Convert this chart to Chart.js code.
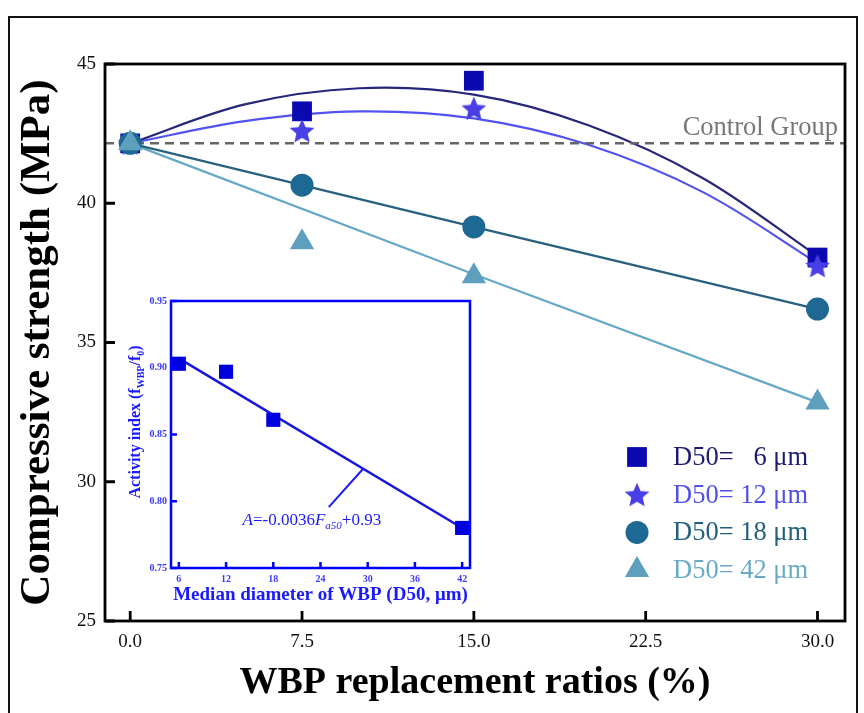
<!DOCTYPE html>
<html>
<head>
<meta charset="utf-8">
<script src="https://cdn.jsdelivr.net/npm/chart.js@4.4.1/dist/chart.umd.min.js"></script>
<style>
  html, body { margin: 0; padding: 0; background: #fff; }
  #wrap { position: relative; width: 864px; height: 713px; overflow: hidden; background: #fff; }
  #main { position: absolute; left: 0; top: 0; }
  #inset { position: absolute; left: 120px; top: 290px; }
  #frame { position: absolute; left: 8px; top: 16px; width: 850px; height: 730px; border: 2px solid #111; box-sizing: border-box; pointer-events: none; }
</style>
</head>
<body>
<div id="wrap">
  <canvas id="main" width="864" height="713"></canvas>
  <canvas id="inset" width="360" height="320"></canvas>
  <div id="frame"></div>
</div>
<script>
// Dados do gráfico principal
const ratios = [0, 7.5, 15, 30];
const d6 = [42.15, 43.3, 44.4, 38.05];
const d12 = [42.15, 42.6, 43.4, 37.75];
const d18 = [42.15, 40.65, 39.15, 36.2];
const d42 = [42.15, 38.6, 37.38, 32.85];

// Curvas de ajuste
const fitX = [0, 5, 10, 15, 20, 25, 30];
const fit6 = [42.15, 43.55, 44.13, 43.9, 42.8, 40.9, 38.1];
const fit12 = [42.15, 42.95, 43.3, 43.05, 42.1, 40.4, 37.85];
const fit42X = [0, 15, 30];
const fit42 = [42.15, 37.45, 32.85];

const controlValue = 42.15;
const legendLabels = ['D50=\u2007 6 \u03bcm', 'D50= 12 \u03bcm', 'D50= 18 \u03bcm', 'D50= 42 \u03bcm'];
const xTicks = [0, 7.5, 15, 22.5, 30];
const yTicks = [25, 30, 35, 40, 45];

// Dados do gráfico interno (inset)
const insetD50 = [6, 12, 18, 42];
const insetIndex = [0.903, 0.897, 0.861, 0.780];
const insetFitX = [6, 42];
const insetFitY = [0.907, 0.780];
const insetXTicks = [6, 12, 18, 24, 30, 36, 42];
const insetYTicks = [0.75, 0.80, 0.85, 0.90, 0.95];

const pts = (xs, ys) => xs.map((x, i) => ({ x: x, y: ys[i] }));

// Marcador estrela (o 'star' do Chart.js não é preenchido)
function drawStar(g, cx, cy, R, r, color) {
    g.beginPath();
    for (let i = 0; i < 10; i++) {
        const a = -Math.PI / 2 + i * Math.PI / 5;
        const rad = i % 2 ? r : R;
        g.lineTo(cx + rad * Math.cos(a), cy + rad * Math.sin(a));
    }
    g.closePath();
    g.fillStyle = color;
    g.fill();
}
function starCanvas(size, color) {
    const c = document.createElement('canvas');
    c.width = c.height = size;
    drawStar(c.getContext('2d'), size / 2, size / 2 + 1, size / 2, size * 0.23, color);
    return c;
}

function drawMarker(ctx, style, r, x, y, color) {
    ctx.fillStyle = color;
    if (style instanceof HTMLCanvasElement) {
        ctx.drawImage(style, x - style.width / 2, y - style.height / 2);
        return;
    }
    ctx.beginPath();
    if (style === 'rect') {
        const s = r * Math.SQRT1_2;
        ctx.rect(x - s, y - s, 2 * s, 2 * s);
    } else if (style === 'circle') {
        ctx.arc(x, y, r, 0, Math.PI * 2);
    } else if (style === 'triangle') {
        ctx.moveTo(x, y - r);
        ctx.lineTo(x + 0.866 * r, y + 0.5 * r);
        ctx.lineTo(x - 0.866 * r, y + 0.5 * r);
        ctx.closePath();
    }
    ctx.fill();
}

const col6 = '#0a0ab0', col12 = '#4a3ee6', col18 = '#1e6894', col42 = '#5e9fbd';
const starStyle = starCanvas(26, col12);

// Moldura + ticks para dentro
const frameTicks = {
    id: 'frameTicks',
    afterDraw(chart, args, o) {
        const { ctx, chartArea: a, scales: { x, y } } = chart;
        ctx.save();
        ctx.strokeStyle = o.color;
        ctx.lineWidth = o.width;
        ctx.beginPath();
        x.ticks.forEach(t => {
            const px = x.getPixelForValue(t.value);
            ctx.moveTo(px, a.bottom);
            ctx.lineTo(px, a.bottom - o.len);
        });
        y.ticks.forEach(t => {
            const py = y.getPixelForValue(t.value);
            ctx.moveTo(a.left, py);
            ctx.lineTo(a.left + o.len, py);
        });
        ctx.stroke();
        ctx.strokeRect(a.left, a.top, a.right - a.left, a.bottom - a.top);
        ctx.restore();
    }
};

// Legenda e rótulo "Control Group"
const mainExtras = {
    id: 'mainExtras',
    afterDraw(chart) {
        const { ctx, chartArea: a, scales: { y } } = chart;
        ctx.save();
        ctx.font = '26.5px "Liberation Serif"';
        ctx.fillStyle = '#777';
        ctx.textAlign = 'right';
        ctx.textBaseline = 'alphabetic';
        ctx.fillText('Control Group', a.right - 7, y.getPixelForValue(controlValue) - 8);

        const markers = chart.data.datasets.filter(d => d.legendIdx !== undefined)
            .sort((p, q) => p.legendIdx - q.legendIdx);
        const textCols = ['#1c1c70', '#5050ea', '#22607e', '#6aaac6'];
        ctx.font = '26.5px "Liberation Serif"';
        ctx.textAlign = 'left';
        ctx.textBaseline = 'middle';
        markers.forEach((d, i) => {
            const yy = a.bottom - 164 + i * 37.7;
            drawMarker(ctx, d.pointStyle, d.pointRadius, a.right - 208, yy, d.backgroundColor);
            ctx.fillStyle = textCols[i];
            ctx.fillText(legendLabels[i], a.right - 172, yy + 1);
        });
        ctx.restore();
    }
};

const serif = '"Liberation Serif", "Times New Roman", serif';

new Chart(document.getElementById('main'), {
    type: 'scatter',
    data: {
        datasets: [
            { data: pts(ratios, d6), pointStyle: 'rect', pointRadius: 14, backgroundColor: col6, borderColor: col6, borderWidth: 0, order: 4, legendIdx: 0 },
            { data: pts(ratios, d12), pointStyle: starStyle, pointRadius: 12, backgroundColor: col12, borderColor: col12, borderWidth: 0, order: 3, legendIdx: 1 },
            { data: pts(ratios, d18), pointStyle: 'circle', pointRadius: 11.5, backgroundColor: col18, borderColor: col18, borderWidth: 0, order: 2, legendIdx: 2 },
            { data: pts(ratios, d42), pointStyle: 'triangle', pointRadius: 14, backgroundColor: col42, borderColor: col42, borderWidth: 0, order: 1, legendIdx: 3 },
            { data: pts(fitX, fit6), showLine: true, pointRadius: 0, borderColor: '#26267a', borderWidth: 2.2, tension: 0.35, order: 10 },
            { data: pts(fitX, fit12), showLine: true, pointRadius: 0, borderColor: '#5252f0', borderWidth: 2.2, tension: 0.35, order: 10 },
            { data: pts(ratios, d18), showLine: true, pointRadius: 0, borderColor: '#28607e', borderWidth: 2.2, order: 10 },
            { data: pts(fit42X, fit42), showLine: true, pointRadius: 0, borderColor: '#66a8c6', borderWidth: 2.2, order: 10 },
            { data: [{ x: -1.1, y: controlValue }, { x: 31.2, y: controlValue }], showLine: true, pointRadius: 0, borderColor: '#666', borderWidth: 2.5, borderDash: [9, 6], order: 9 }
        ]
    },
    options: {
        responsive: false,
        animation: false,
        layout: { padding: { top: 64, right: 19, left: 0, bottom: 0 } },
        plugins: {
            legend: { display: false },
            tooltip: { enabled: false },
            frameTicks: { color: '#000', width: 2.8, len: 10 }
        },
        scales: {
            x: {
                type: 'linear', min: -1.1, max: 31.2,
                afterBuildTicks: s => { s.ticks = xTicks.map(v => ({ value: v })); },
                afterFit: s => { s.height = 92; },
                grid: { display: false, drawTicks: false },
                border: { display: false },
                ticks: { padding: 10, color: '#111', font: { family: serif, size: 19 }, callback: v => Number(v).toFixed(1) },
                title: { display: true, text: 'WBP replacement ratios (%)', color: '#000', font: { family: serif, size: 38, weight: 'bold' }, padding: { top: 0, bottom: 7 } }
            },
            y: {
                type: 'linear', min: 25, max: 45,
                afterBuildTicks: s => { s.ticks = yTicks.map(v => ({ value: v })); },
                afterFit: s => { s.width = 105; },
                grid: { display: false, drawTicks: false },
                border: { display: false },
                ticks: { padding: 9, color: '#111', font: { family: serif, size: 19 } },
                title: { display: true, text: 'Compressive strength (MPa)', color: '#000', font: { family: serif, size: 43, weight: 'bold' }, padding: { top: 12, bottom: 0 } }
            }
        }
    },
    plugins: [frameTicks, mainExtras]
});

// Inset: título do eixo y com subscritos, equação e seta
const eqAnchor = { x: 14.1, y: 0.782 };
const pointerFrom = { x: 29.45, y: 0.8245 };
const pointerTo = { x: 25.05, y: 0.7956 };

function drawParts(ctx, parts, x, y) {
    parts.forEach(p => {
        ctx.font = p.font;
        ctx.fillText(p.t, x, y + (p.dy || 0));
        x += ctx.measureText(p.t).width;
    });
}
function partsWidth(ctx, parts) {
    return parts.reduce((w, p) => { ctx.font = p.font; return w + ctx.measureText(p.t).width; }, 0);
}

const insetExtras = {
    id: 'insetExtras',
    afterDraw(chart) {
        const { ctx, chartArea: a, scales: { x, y } } = chart;
        ctx.save();
        ctx.fillStyle = '#1a1aff';
        ctx.strokeStyle = '#1a1aff';
        ctx.textBaseline = 'alphabetic';

        // título vertical
        const b = 'bold 16px ' + serif, s = 'bold 10px ' + serif;
        const title = [
            { t: 'Activity index (', font: b }, { t: 'f', font: b }, { t: 'WBP', font: s, dy: 4 },
            { t: '/f', font: b }, { t: '0', font: s, dy: 4 }, { t: ')', font: b }
        ];
        ctx.translate(20, 132);
        ctx.rotate(-Math.PI / 2);
        drawParts(ctx, title, -partsWidth(ctx, title) / 2, 0);
        ctx.setTransform(1, 0, 0, 1, 0, 0);

        // equação
        const it = 'italic 17px ' + serif, rg = '17px ' + serif, sb = 'italic 11px ' + serif;
        const eq = [
            { t: 'A', font: it }, { t: '=-0.0036', font: rg }, { t: 'F', font: it },
            { t: 'a50', font: sb, dy: 4 }, { t: '+0.93', font: rg }
        ];
        drawParts(ctx, eq, x.getPixelForValue(eqAnchor.x), y.getPixelForValue(eqAnchor.y));

        ctx.lineWidth = 2;
        ctx.beginPath();
        ctx.moveTo(x.getPixelForValue(pointerFrom.x), y.getPixelForValue(pointerFrom.y));
        ctx.lineTo(x.getPixelForValue(pointerTo.x), y.getPixelForValue(pointerTo.y));
        ctx.stroke();
        ctx.restore();
    }
};

new Chart(document.getElementById('inset'), {
    type: 'scatter',
    data: {
        datasets: [
            { data: pts(insetD50, insetIndex), pointStyle: 'rect', pointRadius: 10, backgroundColor: '#0000e0', borderWidth: 0, order: 1 },
            { data: pts(insetFitX, insetFitY), showLine: true, pointRadius: 0, borderColor: '#1616e0', borderWidth: 2.5, order: 2 }
        ]
    },
    options: {
        responsive: false,
        animation: false,
        layout: { padding: { top: 11, right: 7, left: 0, bottom: 0 } },
        plugins: {
            legend: { display: false },
            tooltip: { enabled: false },
            frameTicks: { color: '#0000ff', width: 2.5, len: 6 }
        },
        scales: {
            x: {
                type: 'linear', min: 5, max: 43,
                afterBuildTicks: s => { s.ticks = insetXTicks.map(v => ({ value: v })); },
                afterFit: s => { s.height = 42; },
                grid: { display: false, drawTicks: false },
                border: { display: false },
                ticks: { padding: 5, color: '#3a3aff', font: { family: serif, size: 10, weight: 'bold' } },
                title: { display: true, text: 'Median diameter of WBP (D50, \u03bcm)', color: '#1a1aff', font: { family: serif, size: 19, weight: 'bold' }, padding: { top: 0, bottom: 4 } }
            },
            y: {
                type: 'linear', min: 0.75, max: 0.95,
                afterBuildTicks: s => { s.ticks = insetYTicks.map(v => ({ value: v })); },
                afterFit: s => { s.width = 51; },
                grid: { display: false, drawTicks: false },
                border: { display: false },
                ticks: { padding: 4, color: '#3a3aff', font: { family: serif, size: 10, weight: 'bold' }, callback: v => Number(v).toFixed(2) }
            }
        }
    },
    plugins: [frameTicks, insetExtras]
});
</script>
</body>
</html>
